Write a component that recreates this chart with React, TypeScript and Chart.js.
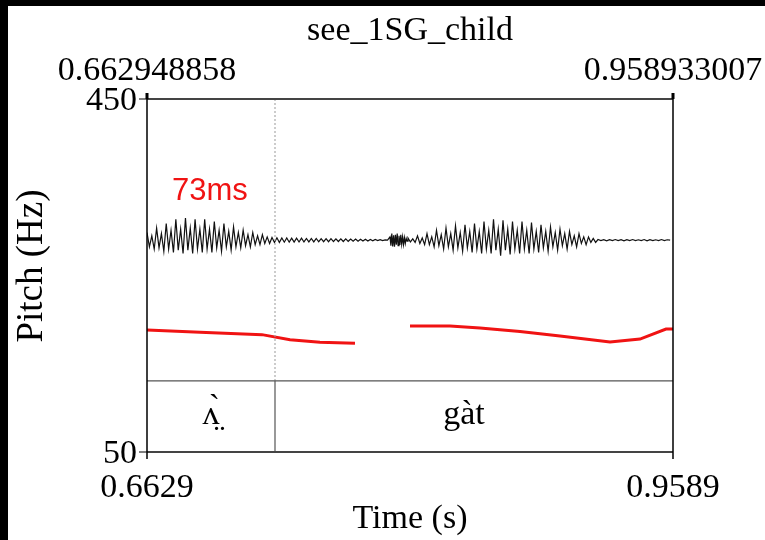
import React, { useEffect, useRef } from "react";
import { Chart, registerables } from "chart.js";

Chart.register(...registerables);

// ---- axis ranges & labels ----
const T_START = 0.662948858;
const T_END = 0.958933007;
const Y_MIN = 50;
const Y_MAX = 450;
const TITLE = "see_1SG_child";
const TOP_TIME_LABELS = ["0.662948858", "0.958933007"];
const BOTTOM_TIME_LABELS = ["0.6629", "0.9589"];
const Y_TICK_VALUES = [450, 50];
const Y_TICK_LABELS = ["450", "50"];
const X_TITLE = "Time (s)";
const Y_TITLE = "Pitch (Hz)";
const DURATION_LABEL = "73ms";

// ---- pitch contour (Hz) ----
const pitchTimes1 = [0.662949, 0.692777, 0.727657, 0.743418, 0.760299, 0.779994];
const pitchValues1 = [188.3, 185.6, 183.0, 177.3, 174.5, 173.2];
const pitchTimes2 = [0.810941, 0.833449, 0.850330, 0.872839, 0.895347, 0.923483, 0.940364, 0.954994, 0.958933];
const pitchValues2 = [192.8, 192.8, 190.5, 186.5, 181.4, 174.6, 178.0, 189.4, 189.4];

// ---- TextGrid tier ----
const boundaryTime = 0.734975;
const tierLabels = ["\u028C\u0324\u0300", "g\u00E0t"];
const tierLabelTimes = [0.698962, 0.841327];

// ---- waveform (relative amplitude per sample, per stretch) ----
const waveSegStarts = [0.662949, 0.733287, 0.799687, 0.809815, 0.91673];
const waveSegEnds = [0.733287, 0.799687, 0.809815, 0.91673, 0.958933];
const waveVoiced1 = [
  0.35, -0.3, 0.2, -0.4, 0.55, -0.35, 0.3, -0.5, 0.75, -0.4, 0.45, -0.55,
  0.95, -0.45, 0.5, -0.6, 1.0, -0.45, 0.55, -0.6, 0.95, -0.4, 0.5, -0.55,
  0.95, -0.4, 0.5, -0.55, 0.85, -0.35, 0.45, -0.5, 0.75, -0.3, 0.4, -0.45,
  0.6, -0.3, 0.35, -0.35, 0.45, -0.25, 0.25, -0.3, 0.35, -0.2, 0.2, -0.2,
  0.25, -0.15, 0.15, -0.15,
];
const waveWeak = [
  0.12, -0.1, 0.11, -0.1, 0.1, -0.09, 0.1, -0.09, 0.09, -0.09, 0.09, -0.08,
  0.09, -0.08, 0.08, -0.08, 0.08, -0.08, 0.08, -0.07, 0.07, -0.07, 0.07, -0.07,
  0.07, -0.06, 0.06, -0.06, 0.06, -0.06, 0.06, -0.05, 0.05, -0.05, 0.05, -0.05,
  0.04, -0.04, 0.04, -0.04, 0.03, -0.03, 0.03, -0.02, 0.02, -0.02, 0.01, 0.0,
];
const waveBurst = [
  0.15, -0.25, 0.3, -0.28, 0.22, -0.3, 0.25, -0.2, 0.3, -0.25, 0.2, -0.22,
  0.25, -0.18, 0.15, -0.2, 0.12, -0.15, 0.08, -0.04,
];
const waveVoiced2 = [
  0.1, -0.08, 0.06, -0.1, 0.2, -0.15, 0.1, -0.2, 0.3, -0.2, 0.15, -0.3,
  0.45, -0.25, 0.25, -0.4, 0.55, -0.3, 0.3, -0.45, 0.65, -0.35, 0.35, -0.5,
  0.7, -0.35, 0.4, -0.55, 0.75, -0.4, 0.4, -0.6, 0.85, -0.4, 0.45, -0.6,
  0.95, -0.45, 0.5, -0.7, 0.9, -0.45, 0.5, -0.65, 0.85, -0.4, 0.45, -0.6,
  0.85, -0.4, 0.45, -0.6, 0.8, -0.4, 0.4, -0.55, 0.7, -0.35, 0.4, -0.5,
  0.6, -0.3, 0.35, -0.45, 0.5, -0.25, 0.3, -0.4, 0.4, -0.2, 0.2, -0.3,
  0.3, -0.15, 0.15, -0.2, 0.15, -0.1, 0.08, -0.1,
];
const waveTail = [
  0.03, -0.02, 0.02, -0.03, 0.02, -0.02, 0.03, -0.02, 0.02, -0.03, 0.02, -0.02, 0.03,
  -0.02, 0.02, -0.02, 0.03, -0.03, 0.02, -0.02, 0.02, -0.02, 0.03, -0.02, 0.02, 0.0,
];
const waveSegValues = [waveVoiced1, waveWeak, waveBurst, waveVoiced2, waveTail];

// layout constants (in Hz units of the y scale)
const WAVE_CENTER_HZ = 290;
const WAVE_SCALE_HZ = 25;
const TIER_TOP_HZ = 130.5;

const SERIF = '"Liberation Serif", "Times New Roman", serif';
const RED = "#f01313";

function buildWave() {
  const pts: { x: number; y: number }[] = [];
  waveSegValues.forEach((vals, s) => {
    const step = (waveSegEnds[s] - waveSegStarts[s]) / vals.length;
    vals.forEach((v, i) => {
      pts.push({ x: waveSegStarts[s] + i * step, y: WAVE_CENTER_HZ + v * WAVE_SCALE_HZ });
    });
  });
  return pts;
}

const praatPlugin = {
  id: "praat",
  beforeDraw(chart: any) {
    const ctx = chart.ctx;
    ctx.save();
    ctx.fillStyle = "#fff";
    ctx.fillRect(0, 0, chart.width, chart.height);
    ctx.fillStyle = "#000";
    ctx.fillRect(0, 0, chart.width, 6);
    ctx.fillRect(0, 0, 8, chart.height);
    ctx.restore();
  },
  afterDatasetsDraw(chart: any) {
    const ctx = chart.ctx;
    const xs = chart.scales.x;
    const ys = chart.scales.y;
    const { left, right, top, bottom } = chart.chartArea;
    const bx = xs.getPixelForValue(boundaryTime);
    const tierY = ys.getPixelForValue(TIER_TOP_HZ);
    ctx.save();

    // dotted boundary over the signal
    ctx.strokeStyle = "#9a9a9a";
    ctx.lineWidth = 1;
    ctx.setLineDash([2, 2]);
    ctx.beginPath();
    ctx.moveTo(bx, top);
    ctx.lineTo(bx, tierY);
    ctx.stroke();
    ctx.setLineDash([]);

    // tier line and boundary
    ctx.strokeStyle = "#555";
    ctx.lineWidth = 1.2;
    ctx.beginPath();
    ctx.moveTo(left, tierY);
    ctx.lineTo(right, tierY);
    ctx.moveTo(bx, tierY);
    ctx.lineTo(bx, bottom);
    ctx.stroke();

    // frame
    ctx.strokeStyle = "#444";
    ctx.lineWidth = 2;
    ctx.beginPath();
    ctx.moveTo(left, top);
    ctx.lineTo(right, top);
    ctx.moveTo(left, bottom);
    ctx.lineTo(right, bottom);
    ctx.stroke();
    ctx.strokeStyle = "#000";
    ctx.lineWidth = 1.5;
    ctx.beginPath();
    ctx.moveTo(left, top);
    ctx.lineTo(left, bottom + 7);
    ctx.moveTo(right, top);
    ctx.lineTo(right, bottom + 7);
    ctx.stroke();

    // y ticks
    ctx.strokeStyle = "#000";
    ctx.lineWidth = 1;
    Y_TICK_VALUES.forEach((v) => {
      const y = ys.getPixelForValue(v);
      ctx.beginPath();
      ctx.moveTo(left - 8, y);
      ctx.lineTo(left, y);
      ctx.stroke();
    });
    // top marks
    ctx.fillStyle = "#000";
    [T_START, T_END].forEach((t) => {
      const x = xs.getPixelForValue(t);
      ctx.fillRect(x - 1.5, top - 6, 3, 6);
    });

    // texts
    ctx.fillStyle = "#000";
    ctx.font = `34px ${SERIF}`;
    ctx.textBaseline = "alphabetic";
    ctx.textAlign = "center";
    ctx.fillText(TITLE, (left + right) / 2, 40);
    ctx.fillText(TOP_TIME_LABELS[0], xs.getPixelForValue(T_START), 80);
    ctx.fillText(TOP_TIME_LABELS[1], xs.getPixelForValue(T_END), 80);
    ctx.fillText(BOTTOM_TIME_LABELS[0], xs.getPixelForValue(T_START), 497);
    ctx.fillText(BOTTOM_TIME_LABELS[1], xs.getPixelForValue(T_END), 497);
    ctx.fillText(X_TITLE, (left + right) / 2, 528);

    ctx.textAlign = "right";
    Y_TICK_VALUES.forEach((v, i) => {
      ctx.fillText(Y_TICK_LABELS[i], left - 10, ys.getPixelForValue(v) + 11);
    });

    ctx.save();
    ctx.font = `37px ${SERIF}`;
    ctx.translate(42, 266);
    ctx.rotate(-Math.PI / 2);
    ctx.textAlign = "center";
    ctx.fillText(Y_TITLE, 0, 0);
    ctx.restore();

    // tier labels
    ctx.textAlign = "center";
    ctx.font = `34px ${SERIF}`;
    tierLabels.forEach((lab, i) => {
      ctx.fillText(lab, xs.getPixelForValue(tierLabelTimes[i]), 424);
    });

    // duration annotation
    ctx.fillStyle = RED;
    ctx.font = '31px "Liberation Sans", Arial, sans-serif';
    ctx.textAlign = "left";
    ctx.fillText(DURATION_LABEL, 172, 200);

    ctx.restore();
  },
};

export default function App() {
  const ref = useRef<HTMLCanvasElement | null>(null);
  useEffect(() => {
    if (!ref.current) return;
    const chart = new Chart(ref.current, {
      type: "line",
      data: {
        datasets: [
          {
            label: "pitch1",
            data: pitchTimes1.map((t, i) => ({ x: t, y: pitchValues1[i] })),
            borderColor: RED,
            borderWidth: 3,
            pointRadius: 0,
            tension: 0,
          },
          {
            label: "pitch2",
            data: pitchTimes2.map((t, i) => ({ x: t, y: pitchValues2[i] })),
            borderColor: RED,
            borderWidth: 3,
            pointRadius: 0,
            tension: 0,
          },
          {
            label: "waveform",
            data: buildWave(),
            borderColor: "#111",
            borderWidth: 1.2,
            pointRadius: 0,
            tension: 0,
          },
        ],
      },
      options: {
        responsive: false,
        animation: false,
        layout: { padding: { left: 147, right: 92, top: 99, bottom: 88 } },
        plugins: { legend: { display: false }, tooltip: { enabled: false } },
        scales: {
          x: { type: "linear", min: T_START, max: T_END, display: false },
          y: { type: "linear", min: Y_MIN, max: Y_MAX, display: false },
        },
      },
      plugins: [praatPlugin],
    });
    return () => chart.destroy();
  }, []);
  return (
    <div style={{ position: "fixed", left: 0, top: 0, width: 765, height: 540, background: "#fff" }}>
      <canvas ref={ref} width={765} height={540} style={{ width: 765, height: 540, display: "block" }} />
    </div>
  );
}
